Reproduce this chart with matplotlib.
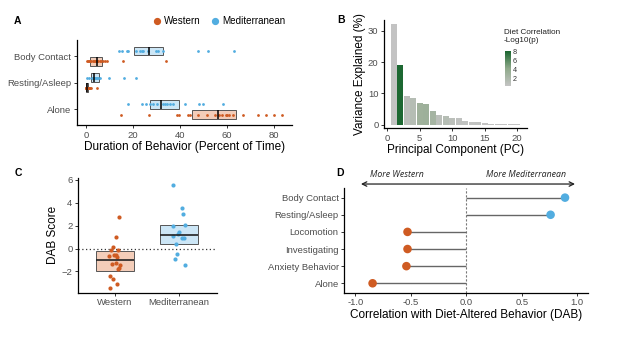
import matplotlib
matplotlib.use("Agg")
import matplotlib.pyplot as plt
import numpy as np
from matplotlib.colors import LinearSegmentedColormap, Normalize
from matplotlib.lines import Line2D
import matplotlib.cm as cm

plt.rcParams['font.family'] = ['Liberation Sans', 'DejaVu Sans']

# ---------------- data ----------------
WEST = '#CF5B22'
MED = '#52ADE0'
WEST_FILL = '#F3CDB9'
MED_FILL = '#CCE6F6'

# Panel A
a_categories = ['Alone', 'Resting/Asleep', 'Body Contact']
a_west_q1 = [45.0, 0.0, 1.6]
a_west_med = [56.3, 0.3, 4.5]
a_west_q3 = [63.8, 0.9, 7.0]
a_med_q1 = [27.1, 2.1, 20.6]
a_med_med = [31.8, 3.5, 26.9]
a_med_q3 = [39.6, 5.5, 32.9]

a_alone_west = [14.8, 26.8, 38.6, 39.7, 43.5, 44.3, 47.8, 51.4, 54.9, 56.6,
                57.7, 59.7, 60.0, 61.1, 62.8, 66.9, 73.3, 76.5, 80.0, 83.5]
a_alone_med = [17.7, 23.7, 25.4, 27.1, 28.7, 30.1, 32.6, 33.6, 34.6, 35.7,
               36.9, 42.3, 48.1, 49.9, 58.2]
a_rest_west = [0.0, 0.0, 0.1, 0.2, 0.3, 0.4, 0.5, 0.6, 0.7, 0.8, 0.9, 1.0,
               1.1, 1.3, 1.6, 2.0, 4.5]
a_rest_med = [0.5, 1.5, 2.4, 2.8, 3.2, 3.6, 4.0, 4.4, 4.8, 5.2, 5.8, 9.9,
              16.3, 21.3]
a_body_west = [0.3, 0.8, 1.3, 1.8, 2.3, 2.8, 3.3, 3.8, 4.3, 4.8, 5.3, 5.9,
               6.5, 7.2, 8.0, 8.8, 15.9, 33.9]
a_body_med = [14.2, 15.2, 17.3, 18.0, 21.5, 23.0, 23.7, 24.4, 26.5, 29.8,
              30.8, 32.9, 47.8, 52.1, 63.1]

# Panel B
b_pc = list(range(1, 21))
b_variance = [32.3, 19.1, 9.0, 8.5, 6.9, 6.5, 4.4, 3.1, 2.7, 2.1,
              2.0, 1.2, 0.9, 0.8, 0.5, 0.3, 0.2, 0.15, 0.1, 0.05]
b_neglogp = [0.3, 8.0, 0.9, 1.3, 3.0, 3.1, 2.5, 0.9, 1.3, 0.9,
             0.6, 0.5, 0.4, 0.5, 0.3, 0.4, 0.3, 0.2, 0.3, 0.2]

# Panel C
c_groups = ['Western', 'Mediterranean']
c_q1 = [-1.94, 0.41]
c_median = [-0.98, 1.16]
c_q3 = [-0.20, 2.03]
c_west_scores = [2.78, 1.04, 0.17, -0.17, -0.15, -0.52, -0.60, -0.68, -0.73,
                 -1.30, -1.39, -1.45, -1.68, -1.82, -2.41, -2.64, -3.08, -3.45]
c_west_jitter = [0.063, 0.016, -0.037, -0.069, 0.047, -0.011, 0.021, -0.090, 0.037,
                 0.011, -0.042, 0.079, 0.058, 0.047, -0.085, -0.037, 0.032, -0.074]
c_med_scores = [5.57, 3.57, 3.01, 1.94, 2.05, 1.30, 1.42, 1.13, 0.90, 0.96,
                0.37, -0.50, -0.93, -1.45]
c_med_jitter = [-0.084, 0.047, 0.063, -0.084, 0.100, -0.016, 0.000, -0.084, 0.047,
                0.090, -0.042, -0.021, -0.063, 0.095]

# Panel D
d_behaviors = ['Alone', 'Anxiety Behavior', 'Investigating', 'Locomotion',
               'Resting/Asleep', 'Body Contact']
d_corr = [-0.845, -0.54, -0.53, -0.53, 0.76, 0.89]

# ---------------- figure ----------------
W, H = 617, 347
fig = plt.figure(figsize=(W / 100, H / 100), dpi=100)


def rect(l, t, r, b):
    return [l / W, 1 - b / H, (r - l) / W, (b - t) / H]


TICK_FS = 6.8
TITLE_FS = 8.5
TICK_COLOR = '#4D4D4D'


def style(ax):
    for s in ['top', 'right']:
        ax.spines[s].set_visible(False)
    for s in ['left', 'bottom']:
        ax.spines[s].set_linewidth(0.9)
        ax.spines[s].set_color('black')
    ax.tick_params(labelsize=TICK_FS, labelcolor=TICK_COLOR, color='#333333',
                   length=2.5, width=0.7, pad=1.5)


# ---- Panel A ----
axA = fig.add_axes(rect(77, 40, 292, 125))
style(axA)
ypos = np.arange(1, len(a_categories) + 1)
off = 0.19
bh = 0.33
axA.barh(ypos - off, np.array(a_west_q3) - np.array(a_west_q1), left=a_west_q1,
         height=bh, color=WEST_FILL, edgecolor='#555555', linewidth=0.7, zorder=1)
axA.barh(ypos + off, np.array(a_med_q3) - np.array(a_med_q1), left=a_med_q1,
         height=bh, color=MED_FILL, edgecolor='#555555', linewidth=0.7, zorder=1)
axA.vlines(a_west_med, ypos - off - bh / 2, ypos - off + bh / 2, color='black', lw=1.1, zorder=3)
axA.vlines(a_med_med, ypos + off - bh / 2, ypos + off + bh / 2, color='black', lw=1.1, zorder=3)
west_lists = [a_alone_west, a_rest_west, a_body_west]
med_lists = [a_alone_med, a_rest_med, a_body_med]
for i, (wl, ml) in enumerate(zip(west_lists, med_lists)):
    axA.scatter(wl, np.full(len(wl), ypos[i] - off), s=4, color=WEST, lw=0, zorder=2)
    axA.scatter(ml, np.full(len(ml), ypos[i] + off), s=4, color=MED, lw=0, zorder=2)
axA.set_yticks(ypos)
axA.set_yticklabels(a_categories)
axA.set_ylim(0.42, 3.6)
axA.set_xlim(-3.8, 87.7)
axA.set_xticks([0, 20, 40, 60, 80])
axA.set_xlabel('Duration of Behavior (Percent of Time)', fontsize=TITLE_FS, labelpad=1)

handles = [Line2D([], [], marker='o', ls='', color=WEST, markersize=4.2, label='Western'),
           Line2D([], [], marker='o', ls='', color=MED, markersize=4.2, label='Mediterranean')]
fig.legend(handles=handles, loc='center', bbox_to_anchor=(218 / W, 1 - 21 / H), ncol=2,
           frameon=False, fontsize=7.1, handletextpad=0.1, columnspacing=0.9,
           handlelength=1.2, borderaxespad=0)

# ---- Panel B ----
axB = fig.add_axes(rect(384, 20, 527, 128))
style(axB)
cmap = LinearSegmentedColormap.from_list('gg', ['#C4C4C4', '#8FA98A', '#1A6630'])
norm = Normalize(vmin=0.2, vmax=8.1)
axB.bar(b_pc, b_variance, width=0.85, color=cmap(norm(b_neglogp)), edgecolor='none')
axB.set_xlim(-0.5, 21.5)
axB.set_ylim(-1.1, 33.5)
axB.set_xticks([0, 5, 10, 15, 20])
axB.set_yticks([0, 10, 20, 30])
axB.set_xlabel('Principal Component (PC)', fontsize=TITLE_FS, labelpad=1)
axB.set_ylabel('Variance Explained (%)', fontsize=TITLE_FS, labelpad=1)

cax = fig.add_axes(rect(505, 51, 511, 86))
cb = fig.colorbar(cm.ScalarMappable(norm=norm, cmap=cmap), cax=cax)
cb.outline.set_visible(False)
cb.set_ticks([2, 4, 6, 8])
cb.ax.tick_params(labelsize=5.2, length=0, pad=1.5, labelcolor='#333333')
fig.text(504 / W, 1 - 29 / H, 'Diet Correlation\n-Log10(p)', fontsize=5.9,
         ha='left', va='top', linespacing=1.1, color='#222222')

# ---- Panel C ----
axC = fig.add_axes(rect(78, 178, 217, 292.7))
style(axC)
xpos = np.arange(1, len(c_groups) + 1)
bw = 0.6
axC.bar(xpos, np.array(c_q3) - np.array(c_q1), bottom=c_q1, width=bw,
        color=[WEST_FILL, MED_FILL], edgecolor='#555555', linewidth=0.7, zorder=1)
axC.hlines(c_median, xpos - bw / 2, xpos + bw / 2, color='#222222', lw=1.2, zorder=3)
axC.axhline(0, color='#333333', lw=0.9, ls=(0, (1, 2)), zorder=0)
axC.scatter(xpos[0] + np.array(c_west_jitter), c_west_scores, s=9, color=WEST, lw=0, zorder=2)
axC.scatter(xpos[1] + np.array(c_med_jitter), c_med_scores, s=9, color=MED, lw=0, zorder=2)
axC.set_xticks(xpos)
axC.set_xticklabels(c_groups)
axC.set_xlim(0.42, 2.6)
axC.set_ylim(-3.85, 6.15)
axC.set_yticks([-2, 0, 2, 4, 6])
axC.set_ylabel('DAB Score', fontsize=TITLE_FS, labelpad=2)

# ---- Panel D ----
axD = fig.add_axes(rect(344.3, 187.7, 588.3, 292.7))
style(axD)
ypD = np.arange(1, len(d_behaviors) + 1)
colsD = [MED if v > 0 else WEST for v in d_corr]
axD.axvline(0, color='#777777', lw=0.8, ls=(0, (2, 1.6)), zorder=0)
axD.hlines(ypD, 0, d_corr, color='#666666', lw=1.0, zorder=1)
axD.scatter(d_corr, ypD, s=38, color=colsD, lw=0, zorder=2)
axD.set_yticks(ypD)
axD.set_yticklabels(d_behaviors)
axD.set_ylim(0.45, 6.58)
axD.set_xlim(-1.1, 1.1)
axD.set_xticks([-1.0, -0.5, 0.0, 0.5, 1.0])
axD.set_xticklabels(['-1.0', '-0.5', '0.0', '0.5', '1.0'])
axD.set_xlabel('Correlation with Diet-Altered Behavior (DAB)', fontsize=TITLE_FS, labelpad=1)
axD.annotate('', xy=(-0.95, 1.035), xytext=(0.98, 1.035),
             xycoords=('data', 'axes fraction'), textcoords=('data', 'axes fraction'),
             arrowprops=dict(arrowstyle='<->', lw=0.9, color='#222222',
                             shrinkA=0, shrinkB=0, mutation_scale=8),
             annotation_clip=False)
axD.text(-0.63, 1.13, 'More Western', transform=axD.get_xaxis_transform(),
         fontsize=6.3, style='italic', family=['Open Sans', 'DejaVu Sans'],
         ha='center', va='center', color='#222222')
axD.text(0.54, 1.13, 'More Mediterranean', transform=axD.get_xaxis_transform(),
         fontsize=6.3, style='italic', family=['Open Sans', 'DejaVu Sans'],
         ha='center', va='center', color='#222222')

# Panel labels
for lab, x, y in [('A', 17, 21), ('B', 341, 20), ('C', 18, 173), ('D', 340, 173)]:
    fig.text(x / W, 1 - y / H, lab, fontsize=7.5, fontweight='bold', ha='center', va='center')

fig.savefig('out.png', dpi=100)
